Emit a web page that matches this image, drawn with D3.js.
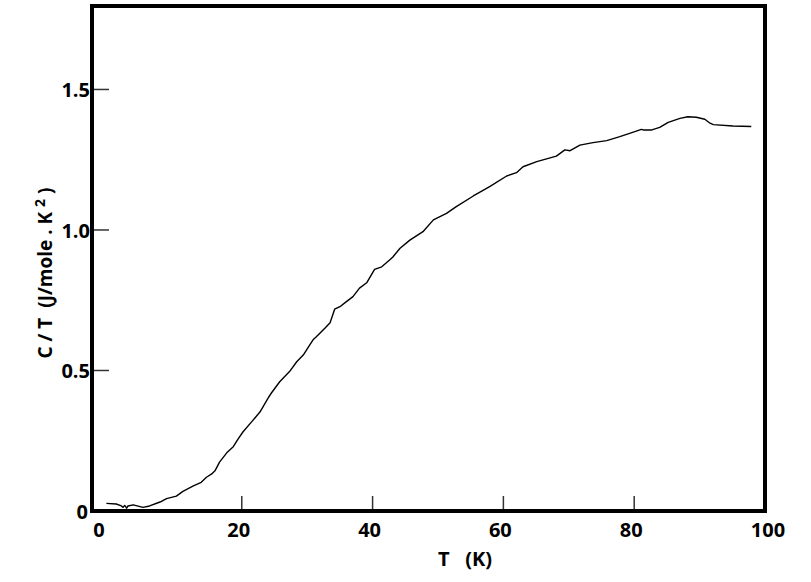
<!DOCTYPE html>
<html>
<head>
<meta charset="utf-8">
<script src="https://cdn.jsdelivr.net/npm/d3@7"></script>
<style>
  body { margin: 0; background: #fff; }
  text { font-family: "Open Sans", sans-serif; font-weight: bold; fill: #000; }
</style>
</head>
<body>
<div id="chart"></div>
<script>
// data
var tempK = [-0.7, 0.8, 1.6, 1.85, 2.1, 2.4, 2.6, 3.4, 4.9, 5.9, 7.5, 8.5, 10.0, 11.0, 12.6, 13.8,
    14.6, 15.4, 15.9, 16.6, 17.7, 18.7, 19.4, 20.2, 21.5, 22.8, 24.0, 24.5, 25.8, 27.3, 28.4, 29.4,
    30.4, 30.9, 31.4, 32.7, 33.5, 34.2, 35.0, 36.0, 37.0, 38.0, 39.1, 40.3, 41.4, 42.6, 43.1, 44.2,
    45.7, 47.7, 49.3, 51.3, 52.8, 55.4, 57.9, 60.5, 62.0, 63.0, 65.1, 68.1, 69.4, 70.2, 71.7, 73.7,
    75.8, 77.8, 79.3, 81.1, 81.4, 82.7, 83.9, 85.2, 87.0, 88.2, 89.5, 90.8, 91.6, 92.1, 95.1, 97.9];
var cOverT = [0.027, 0.025, 0.018, 0.013, 0.020, 0.010, 0.018, 0.022, 0.013, 0.018, 0.032, 0.044, 0.053, 0.070, 0.089, 0.102,
    0.120, 0.132, 0.143, 0.174, 0.207, 0.229, 0.255, 0.282, 0.317, 0.353, 0.401, 0.419, 0.460, 0.496, 0.531, 0.555,
    0.591, 0.609, 0.620, 0.650, 0.670, 0.718, 0.727, 0.745, 0.763, 0.793, 0.812, 0.860, 0.869, 0.893, 0.904, 0.935,
    0.964, 0.994, 1.036, 1.059, 1.083, 1.121, 1.154, 1.192, 1.204, 1.225, 1.243, 1.263, 1.285, 1.282, 1.302, 1.311,
    1.318, 1.332, 1.344, 1.358, 1.356, 1.356, 1.365, 1.383, 1.397, 1.403, 1.401, 1.394, 1.380, 1.375, 1.370, 1.368];

var xTicks = [0, 20, 40, 60, 80, 100];
var xTickLabels = ["0", "20", "40", "60", "80", "100"];
var yTicks = [0, 0.5, 1.0, 1.5];
var yTickLabels = ["0", "0.5", "1.0", "1.5"];

var width = 811, height = 582;
var margin = { top: 6, right: 46, bottom: 71, left: 92 };

var svg = d3.select("#chart").append("svg")
    .attr("width", width)
    .attr("height", height);

var scalex = d3.scaleLinear().domain([-2.9, 100]).range([margin.left, width - margin.right]);
var scaley = d3.scaleLinear().domain([0, 1.797]).range([height - margin.bottom, margin.top]);

var data = tempK.map(function (t, i) { return { t: t, c: cOverT[i] }; });

// inner ticks
svg.selectAll(".xtick")
    .data(xTicks.filter(function (d) { return d > 0 && d < 100; }))
    .enter().append("line")
    .attr("x1", function (d) { return scalex(d); })
    .attr("x2", function (d) { return scalex(d); })
    .attr("y1", scaley(0))
    .attr("y2", scaley(0) - 15)
    .attr("stroke", "#333")
    .attr("stroke-width", 1.5);

svg.selectAll(".ytick")
    .data(yTicks.filter(function (d) { return d > 0; }))
    .enter().append("line")
    .attr("x1", scalex(-2.9))
    .attr("x2", scalex(-2.9) + 17)
    .attr("y1", function (d) { return scaley(d); })
    .attr("y2", function (d) { return scaley(d); })
    .attr("stroke", "#333")
    .attr("stroke-width", 1.5);

// curve
var valueline = d3.line()
    .x(function (d) { return scalex(d.t); })
    .y(function (d) { return scaley(d.c); });

svg.append("path")
    .datum(data)
    .attr("d", valueline)
    .attr("fill", "none")
    .attr("stroke", "#000")
    .attr("stroke-width", 1.4)
    .attr("stroke-linejoin", "round");

// frame
svg.append("rect")
    .attr("x", scalex(-2.9))
    .attr("y", scaley(1.797))
    .attr("width", scalex(100) - scalex(-2.9))
    .attr("height", scaley(0) - scaley(1.797))
    .attr("fill", "none")
    .attr("stroke", "#000")
    .attr("stroke-width", 4);

// tick labels
svg.selectAll(".xlab")
    .data(xTicks)
    .enter().append("text")
    .attr("x", function (d) { return scalex(d); })
    .attr("y", 537)
    .attr("dx", function (d, i) { return i === 0 ? -12 : (i === 5 ? 3 : -3); })
    .attr("text-anchor", "middle")
    .style("font-size", "20px")
    .text(function (d, i) { return xTickLabels[i]; });

svg.selectAll(".ylab")
    .data(yTicks)
    .enter().append("text")
    .attr("x", function (d, i) { return i === 0 ? 88 : 90; })
    .attr("y", function (d) { return scaley(d) + 8; })
    .attr("text-anchor", "end")
    .style("font-size", "20px")
    .text(function (d, i) { return yTickLabels[i]; });

// axis titles
svg.append("text")
    .attr("x", 465)
    .attr("y", 566)
    .attr("text-anchor", "middle")
    .style("font-size", "20px")
    .attr("xml:space", "preserve")
    .text("T   (K)");

var ytitle = svg.append("text")
    .attr("transform", "translate(52,273) rotate(-90)")
    .attr("text-anchor", "middle")
    .style("font-size", "19px")
    .attr("xml:space", "preserve");
ytitle.append("tspan").text("C / T  (J/mole . K ");
ytitle.append("tspan").attr("dy", -7).style("font-size", "14px").text("2");
ytitle.append("tspan").attr("dy", 7).text(" )");
</script>
</body>
</html>
